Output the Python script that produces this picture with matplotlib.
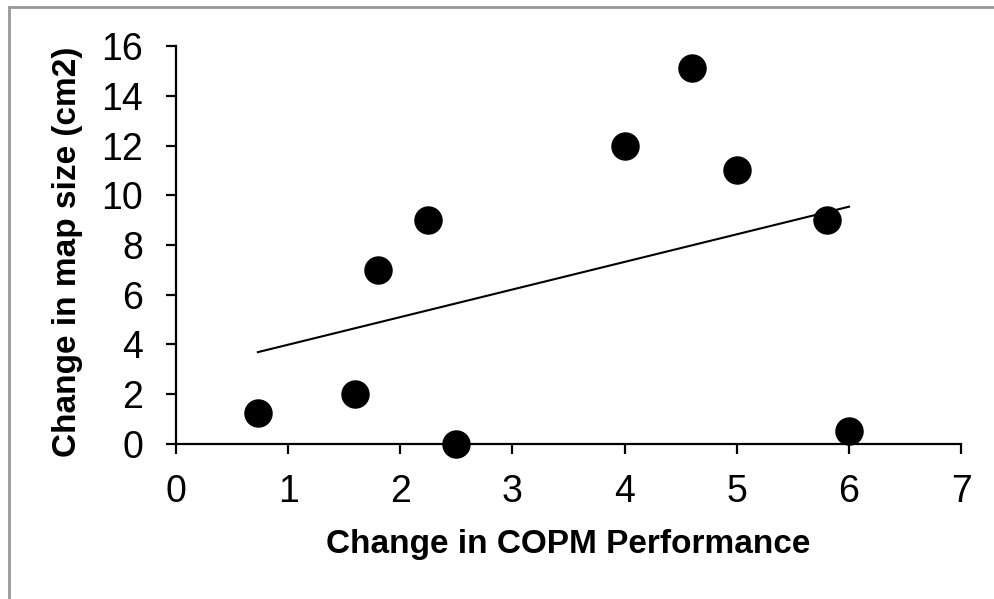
import matplotlib.pyplot as plt
import numpy as np
from matplotlib.lines import Line2D

plt.rcParams['font.family'] = ['Liberation Sans', 'DejaVu Sans']

copm_change = [0.73, 1.6, 1.8, 2.25, 2.5, 4.0, 4.6, 5.0, 5.8, 6.0]
map_change = [1.25, 2.0, 7.0, 9.0, 0.0, 12.0, 15.1, 11.0, 9.0, 0.5]
xticks = [0, 1, 2, 3, 4, 5, 6, 7]
yticks = [0, 2, 4, 6, 8, 10, 12, 14, 16]

fig = plt.figure(figsize=(9.94, 5.99), dpi=100)
ax = fig.add_axes([0.177, 0.259, 0.790, 0.664])

ax.scatter(copm_change, map_change, s=380, c='black', zorder=3, clip_on=False)

# linear trendline over the data range
slope, icpt = np.polyfit(copm_change, map_change, 1)
xs = np.array([min(copm_change), max(copm_change)])
ax.plot(xs, slope*xs+icpt, color='black', lw=1.5)

ax.set_xlim(0, 7)
ax.set_ylim(0, 16)
ax.set_xticks(xticks)
ax.set_yticks(yticks)
for s in ['top', 'right']:
    ax.spines[s].set_visible(False)
for s in ['left', 'bottom']:
    ax.spines[s].set_linewidth(1.6)
ax.tick_params(axis='both', direction='out', length=7.5, width=1.6, labelsize=27)
ax.tick_params(axis='x', pad=14)
ax.tick_params(axis='y', pad=16)

ax.set_xlabel('Change in COPM Performance', fontsize=24, fontweight='bold')
ax.set_ylabel('Change in map size (cm2)', fontsize=24, fontweight='bold')
ax.xaxis.set_label_coords(0.5, -0.215)
ax.yaxis.set_label_coords(-0.118, 0.482)

# grey frame lines on left and top
fig.add_artist(Line2D([9/994, 9/994], [0, 1-7/599], transform=fig.transFigure, color='#999999', lw=2))
fig.add_artist(Line2D([9/994, 993/994], [1-7/599, 1-7/599], transform=fig.transFigure, color='#999999', lw=2))

fig.savefig('out.png', dpi=100)
